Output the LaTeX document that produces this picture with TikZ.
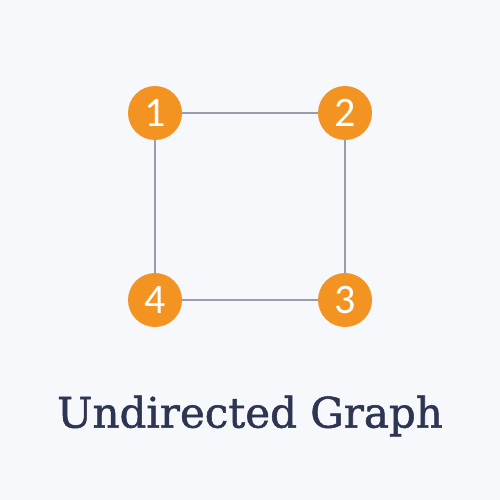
\documentclass[tikz,border=0pt]{standalone}
\usepackage{fontspec}
\setmainfont{DejaVu Serif}
\newfontfamily\titlefont[FakeBold=1.3]{DejaVu Serif}
\newfontfamily\numfont{Carlito}
\definecolor{bgcol}{HTML}{F6F8FB}
\definecolor{vertexcol}{HTML}{F39422}
\definecolor{edgecol}{HTML}{9A9CAE}
\definecolor{titlecol}{HTML}{2E3552}
\tikzset{
  vertex/.style = {circle, fill=vertexcol, minimum size=54pt, inner sep=0pt,
                   text=white, font=\numfont\fontsize{42}{42}\selectfont},
  edge/.style   = {draw=edgecol, line width=1.8pt},
  title/.style  = {text=titlecol, font=\titlefont\fontsize{42}{42}\selectfont}
}
\begin{document}
\begin{tikzpicture}[x=1pt, y=-1pt]
  \fill[bgcol] (0,0) rectangle (500,500);
  \useasboundingbox (0,0) rectangle (500,500);
  % vertices
  \node [vertex] (v1) at (155,113) {1};
  \node [vertex] (v2) at (345,113) {2};
  \node [vertex] (v3) at (345,300) {3};
  \node [vertex] (v4) at (155,300) {4};
  % edges
  \draw [edge] (v1) -- (v2);
  \draw [edge] (v2) -- (v3);
  \draw [edge] (v3) -- (v4);
  \draw [edge] (v4) -- (v1);
  % caption
  \node [title] (caption) at (250,416) {Undirected Graph};
\end{tikzpicture}
\end{document}
